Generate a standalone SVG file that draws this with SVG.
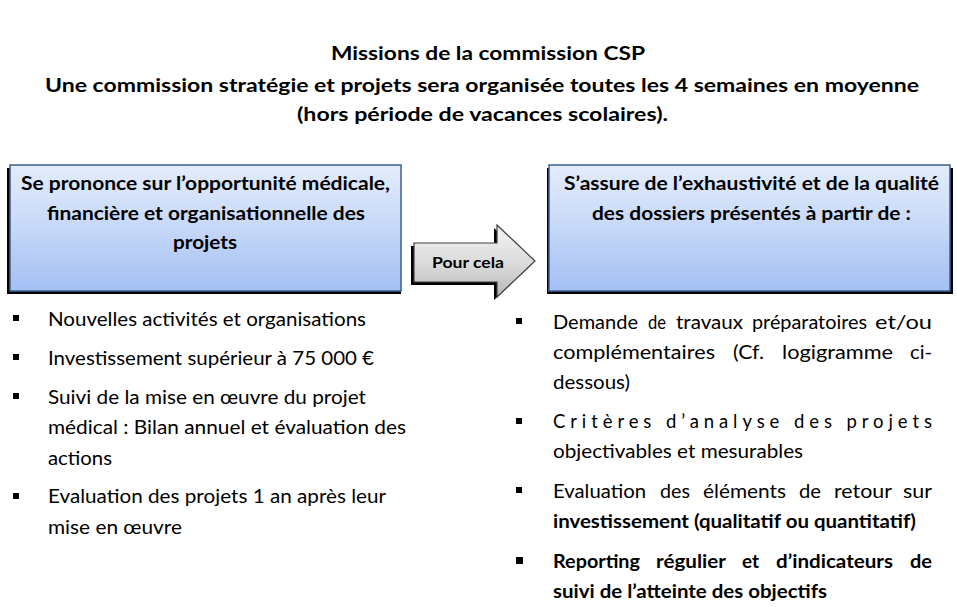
<svg xmlns="http://www.w3.org/2000/svg" width="957" height="607" viewBox="0 0 957 607">
<defs>
<linearGradient id="blueGrad" x1="0" y1="0" x2="0" y2="1">
<stop offset="0" stop-color="#e3ecfc"/>
<stop offset="0.5" stop-color="#c6d8f8"/>
<stop offset="1" stop-color="#a3bff2"/>
</linearGradient>
<linearGradient id="grayGrad" x1="0" y1="0" x2="0" y2="1">
<stop offset="0" stop-color="#f4f4f4"/>
<stop offset="0.55" stop-color="#dadada"/>
<stop offset="1" stop-color="#b8b8b8"/>
</linearGradient>
<style>
.t{font-family:Lato,"Liberation Sans",sans-serif;fill:#000}
.title{font-size:19.5px;font-weight:bold}
.box{font-size:18.5px;font-weight:bold}
.li{font-size:18.5px}
.lib{font-size:18.5px;font-weight:bold}
.arr{font-size:15px;font-weight:bold}
.boxrect{fill:url(#blueGrad);stroke:#3d5f93;stroke-width:1.5}
.shadow{fill:#000}
.bullet{fill:#000}
</style>
</defs>
<rect width="957" height="607" fill="#fff"/>

<g id="title">
<text class="t title" x="331" y="60" textLength="314" lengthAdjust="spacingAndGlyphs">Missions de la commission CSP</text>
<text class="t title" x="45" y="92" textLength="874" lengthAdjust="spacingAndGlyphs">Une commission stratégie et projets sera organisée toutes les 4 semaines en moyenne</text>
<text class="t title" x="297" y="121" textLength="371" lengthAdjust="spacingAndGlyphs">(hors période de vacances scolaires).</text>
</g>

<g id="box-left">
<rect class="shadow" x="7" y="168" width="394" height="126"/>
<rect class="boxrect" x="10" y="165" width="391" height="126"/>
<text class="t box" x="21" y="190" textLength="369" lengthAdjust="spacingAndGlyphs">Se prononce sur l’opportunité médicale,</text>
<text class="t box" x="47" y="219.5" textLength="318" lengthAdjust="spacingAndGlyphs">financière et organisationnelle des</text>
<text class="t box" x="173" y="249" textLength="64" lengthAdjust="spacingAndGlyphs">projets</text>
</g>

<g id="connectors">
<g id="arrow-pour-cela">
<polygon class="shadow" points="411,246 494,246 494,228 532,264 494,300 494,285 411,285"/>
<polygon points="414,243 497,243 497,225 535,261 497,297 497,282 414,282" fill="url(#grayGrad)" stroke="#404040" stroke-width="1.2"/>
<text class="t arr" x="432" y="268" textLength="72" lengthAdjust="spacingAndGlyphs">Pour cela</text>
</g>
</g>

<g id="box-right">
<rect class="shadow" x="547" y="168" width="406" height="126"/>
<rect class="boxrect" x="549" y="165" width="401" height="126"/>
<text class="t box" x="564" y="190" textLength="375" lengthAdjust="spacingAndGlyphs">S’assure de l’exhaustivité et de la qualité</text>
<text class="t box" x="592" y="219.5" textLength="319" lengthAdjust="spacingAndGlyphs">des dossiers présentés à partir de :</text>
</g>

<g id="list-left">
<rect class="bullet" x="13" y="315" width="6" height="6"/>
<rect class="bullet" x="13" y="354" width="6" height="6"/>
<rect class="bullet" x="13" y="393" width="6" height="6"/>
<rect class="bullet" x="13" y="493" width="6" height="6"/>
<text class="t li" x="48" y="326" textLength="318" lengthAdjust="spacingAndGlyphs">Nouvelles activités et organisations</text>
<text class="t li" x="48" y="365" textLength="326" lengthAdjust="spacingAndGlyphs">Investissement supérieur à 75 000 €</text>
<text class="t li" x="48" y="404" textLength="318" lengthAdjust="spacingAndGlyphs">Suivi de la mise en œuvre du projet</text>
<text class="t li" x="48" y="434" textLength="358" lengthAdjust="spacingAndGlyphs">médical : Bilan annuel et évaluation des</text>
<text class="t li" x="48" y="465" textLength="64" lengthAdjust="spacingAndGlyphs">actions</text>
<text class="t li" x="48" y="503" textLength="338" lengthAdjust="spacingAndGlyphs">Evaluation des projets 1 an après leur</text>
<text class="t li" x="48" y="534" textLength="134" lengthAdjust="spacingAndGlyphs">mise en œuvre</text>
</g>

<g id="list-right">
<rect class="bullet" x="516" y="318" width="6" height="6"/>
<rect class="bullet" x="516" y="418" width="6" height="6"/>
<rect class="bullet" x="516" y="487" width="6" height="6"/>
<rect class="bullet" x="516" y="557" width="7" height="7"/>
<text class="t li" x="553" y="329" textLength="85" lengthAdjust="spacingAndGlyphs">Demande</text>
<text class="t li" x="648" y="329" textLength="18" lengthAdjust="spacingAndGlyphs">de</text>
<text class="t li" x="676" y="329" textLength="67" lengthAdjust="spacingAndGlyphs">travaux</text>
<text class="t li" x="752" y="329" textLength="115" lengthAdjust="spacingAndGlyphs">préparatoires</text>
<text class="t li" x="875" y="329" textLength="57" lengthAdjust="spacingAndGlyphs">et/ou</text>
<text class="t li" x="553" y="359" textLength="162" lengthAdjust="spacingAndGlyphs">complémentaires</text>
<text class="t li" x="733" y="359" textLength="31" lengthAdjust="spacingAndGlyphs">(Cf.</text>
<text class="t li" x="782" y="359" textLength="111" lengthAdjust="spacingAndGlyphs">logigramme</text>
<text class="t li" x="910" y="359" textLength="22" lengthAdjust="spacingAndGlyphs">ci-</text>
<text class="t li" x="553" y="389" textLength="77" lengthAdjust="spacingAndGlyphs">dessous)</text>
<text class="t li" x="553" y="428" textLength="379" lengthAdjust="spacing">Critères d’analyse des projets</text>
<text class="t li" x="553" y="458" textLength="250" lengthAdjust="spacingAndGlyphs">objectivables et mesurables</text>
<text class="t li" x="553" y="498" textLength="93" lengthAdjust="spacingAndGlyphs">Evaluation</text>
<text class="t li" x="660" y="498" textLength="30" lengthAdjust="spacingAndGlyphs">des</text>
<text class="t li" x="703" y="498" textLength="83" lengthAdjust="spacingAndGlyphs">éléments</text>
<text class="t li" x="799" y="498" textLength="22" lengthAdjust="spacingAndGlyphs">de</text>
<text class="t li" x="834" y="498" textLength="58" lengthAdjust="spacingAndGlyphs">retour</text>
<text class="t li" x="903" y="498" textLength="29" lengthAdjust="spacingAndGlyphs">sur</text>
<text class="t lib" x="553" y="528" textLength="363" lengthAdjust="spacingAndGlyphs">investissement (qualitatif ou quantitatif)</text>
<text class="t lib" x="553" y="567.5" textLength="87" lengthAdjust="spacingAndGlyphs">Reporting</text>
<text class="t lib" x="656" y="567.5" textLength="70" lengthAdjust="spacingAndGlyphs">régulier</text>
<text class="t lib" x="742" y="567.5" textLength="17" lengthAdjust="spacingAndGlyphs">et</text>
<text class="t lib" x="776" y="567.5" textLength="117" lengthAdjust="spacingAndGlyphs">d’indicateurs</text>
<text class="t lib" x="910" y="567.5" textLength="22" lengthAdjust="spacingAndGlyphs">de</text>
<text class="t lib" x="553" y="597.5" textLength="274" lengthAdjust="spacingAndGlyphs">suivi de l’atteinte des objectifs</text>
</g>
</svg>
